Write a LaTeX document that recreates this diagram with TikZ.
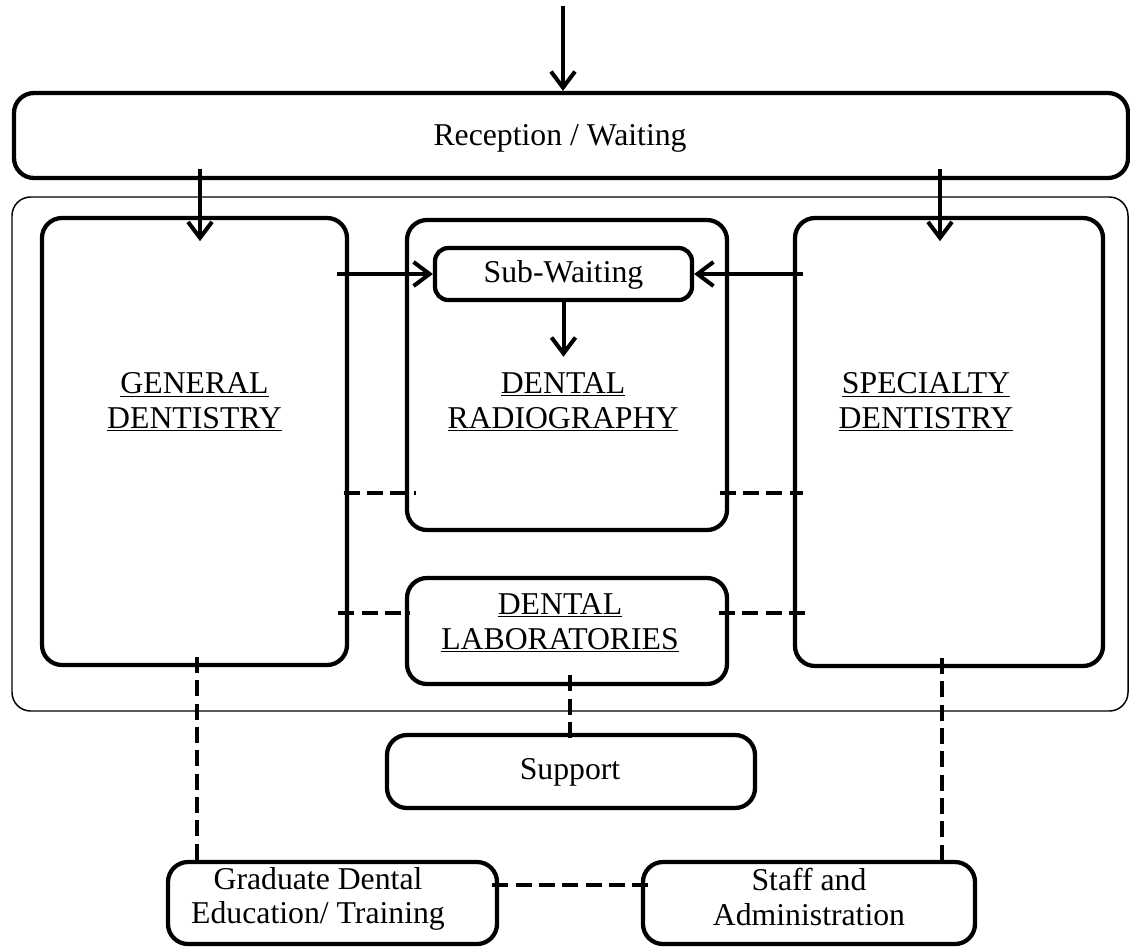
\documentclass[tikz,border=0pt]{standalone}
\usepackage{fontspec}
\setmainfont{Liberation Serif}
\usetikzlibrary{arrows.meta,calc}
\begin{document}
\begin{tikzpicture}[x=0.75pt,y=-0.75pt,
  box/.style={draw, line width=3.2pt, rounded corners=15pt, inner sep=0pt},
  sz/.style 2 args={minimum width=#1*0.75pt, minimum height=#2*0.75pt},
  txt/.style={font=\fontsize{23.8}{25.8}\selectfont, align=center},
  arr/.style={line width=3pt, -{Straight Barb[length=12pt,width=18pt,line width=3pt]}},
  dsh/.style={line width=3pt, dash pattern=on 12pt off 5.5pt}]
\useasboundingbox (0,0) rectangle (1130,947);

% outer container
\node[draw, line width=1.1pt, rounded corners=14pt, sz={1116}{514}] (outer) at (570,454) {};

% boxes
\node[box, sz={1114}{85}] (rec) at (571,135.5) {};
\node[txt] (rect) at (560,138) {Reception / Waiting};

\node[box, sz={305}{447}] (gen) at (194.5,441.5) {};
\node[txt] (gent) at (194.5,402) {\underline{GENERAL}\\\underline{DENTISTRY}};

\node[box, sz={320}{310}] (rad) at (567,375) {};
\node[txt] (radt) at (563,402) {\underline{DENTAL}\\\underline{RADIOGRAPHY}};

\node[box, rounded corners=10pt, sz={257}{52}] (sub) at (563.5,274) {};
\node[txt] (subt) at (563.5,275) {Sub-Waiting};

\node[box, sz={308}{448}] (spec) at (949,442) {};
\node[txt] (spect) at (926,402) {\underline{SPECIALTY}\\\underline{DENTISTRY}};

\node[box, sz={320}{106}] (lab) at (567,631) {};
\node[txt] (labt) at (560,623) {\underline{DENTAL}\\\underline{LABORATORIES}};

\node[box, sz={368}{73}] (sup) at (571,771.5) {};
\node[txt] (supt) at (570,772) {Support};

\node[box, sz={329}{82}] (grad) at (332.5,903) {};
\node[txt] (gradt) at (318,899) {Graduate Dental\\Education/ Training};

\node[box, sz={332}{82}] (staff) at (809,903) {};
\node[txt] (stafft) at (809,897) {Staff and\\Administration};

% helper coordinates
\coordinate (top) at (563,6);
\coordinate (c1) at (200,0);
\coordinate (c2) at (940,0);
\coordinate (c3) at (197,0);
\coordinate (c4) at (942,0);
\coordinate (c5) at (570,0);
\coordinate (r1) at (0,493);
\coordinate (r2) at (0,613);
\coordinate (r3) at (0,885);

% arrows
\draw[arr] (top) -- (top |- rec.north);
\draw[arr] ([yshift=8pt]rec.south -| c1) -- ([yshift=-19pt]gen.north -| c1);
\draw[arr] ([yshift=8pt]rec.south -| c2) -- ([yshift=-19pt]spec.north -| c2);
\draw[arr] ([xshift=-9pt]gen.east |- sub.west) -- (sub.west);
\draw[arr] ([xshift=7.5pt]spec.west |- sub.east) -- (sub.east);
\draw[arr] (sub.south) -- ([yshift=-41pt]sub.south);

% dashed links
\draw[dsh] ([xshift=-4pt]gen.east |- r1) -- ([xshift=8pt]rad.west |- r1);
\draw[dsh] ([xshift=-8pt]gen.east |- r2) -- ([xshift=4pt]lab.west |- r2);
\draw[dsh] ([xshift=-7pt]rad.east |- r1) -- ([xshift=7.5pt]spec.west |- r1);
\draw[dsh] ([xshift=-7.5pt]lab.east |- r2) -- ([xshift=10pt]spec.west |- r2);
\draw[dsh] ([yshift=7.5pt]gen.south -| c3) -- (grad.north -| c3);
\draw[dsh] ([yshift=7.5pt]spec.south -| c4) -- (staff.north -| c4);
\draw[dsh] ([yshift=8pt]lab.south -| c5) -- ([yshift=-4pt]sup.north -| c5);
\draw[dsh] ([xshift=-5pt]grad.east |- r3) -- ([xshift=7.5pt]staff.west |- r3);
\end{tikzpicture}
\end{document}
